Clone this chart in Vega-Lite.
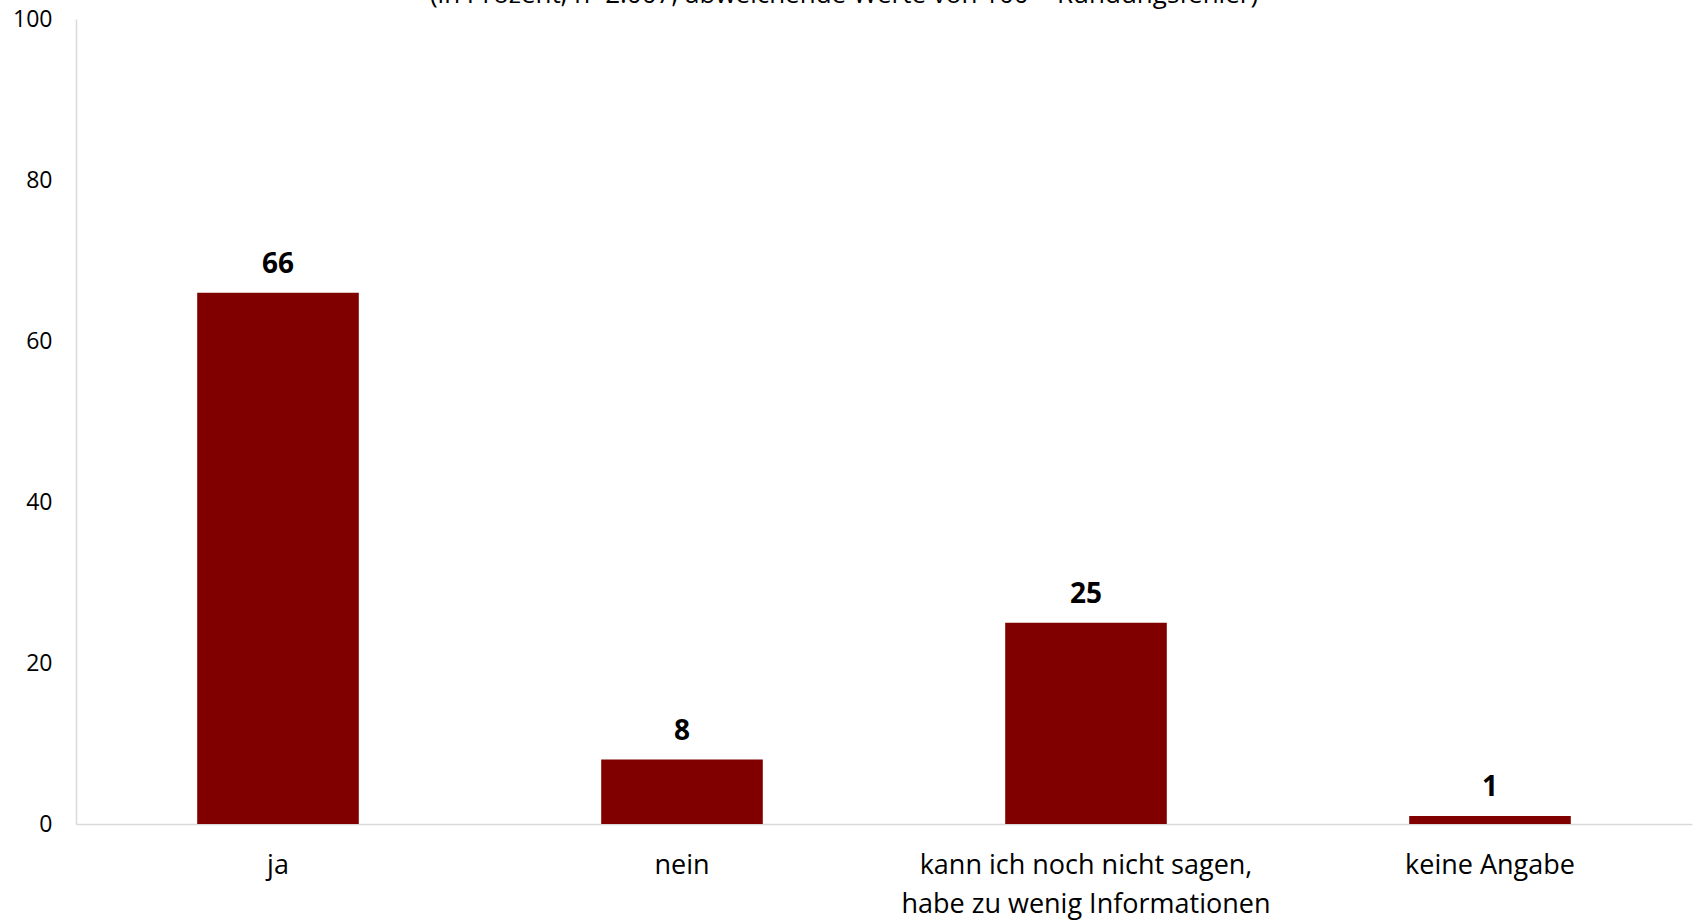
{
  "$schema": "https://vega.github.io/schema/vega-lite/v6.json",
  "width": 1616,
  "height": 805,
  "autosize": {"type": "none"},
  "padding": {"left": 76, "top": 19, "right": 2, "bottom": 97},
  "background": "white",
  "title": {
    "text": "(in Prozent; n=2.007; abweichende Werte von 100 = Rundungsfehler)",
    "font": "Open Sans",
    "fontSize": 26,
    "fontWeight": "normal",
    "color": "#000000",
    "anchor": "middle",
    "offset": 0,
    "dx": -40,
    "limit": 0
  },
  "data": {
    "values": [
      {"antwort": "ja", "wert": 66},
      {"antwort": "nein", "wert": 8},
      {"antwort": "kann ich noch nicht sagen,\nhabe zu wenig Informationen", "wert": 25},
      {"antwort": "keine Angabe", "wert": 1}
    ]
  },
  "config": {
    "view": {"stroke": null},
    "font": "Open Sans"
  },
  "encoding": {
    "x": {
      "field": "antwort",
      "type": "nominal",
      "sort": null,
      "scale": {"paddingInner": 0.6, "paddingOuter": 0.3},
      "axis": {
        "title": null,
        "labelAngle": 0,
        "labelFont": "Open Sans",
        "labelFontSize": 27,
        "labelColor": "#000000",
        "labelPadding": 28,
        "labelLimit": 0,
        "labelLineHeight": 39,
        "labelExpr": "split(datum.value, '\\n')",
        "ticks": false,
        "domainColor": "#d9d9d9",
        "domainWidth": 1.5
      }
    },
    "y": {
      "field": "wert",
      "type": "quantitative",
      "scale": {"domain": [0, 100], "nice": false},
      "axis": {
        "title": null,
        "values": [0, 20, 40, 60, 80, 100],
        "grid": false,
        "ticks": false,
        "labelFont": "Open Sans",
        "labelFontSize": 23,
        "labelColor": "#000000",
        "labelPadding": 24,
        "domainColor": "#d9d9d9",
        "domainWidth": 1.5
      }
    }
  },
  "layer": [
    {"mark": {"type": "bar", "color": "#800000"}},
    {
      "mark": {"type": "text", "baseline": "bottom", "dy": -14, "font": "Open Sans", "fontSize": 28, "fontWeight": "bold", "color": "#000000"},
      "encoding": {"text": {"field": "wert", "type": "quantitative"}}
    }
  ]
}
